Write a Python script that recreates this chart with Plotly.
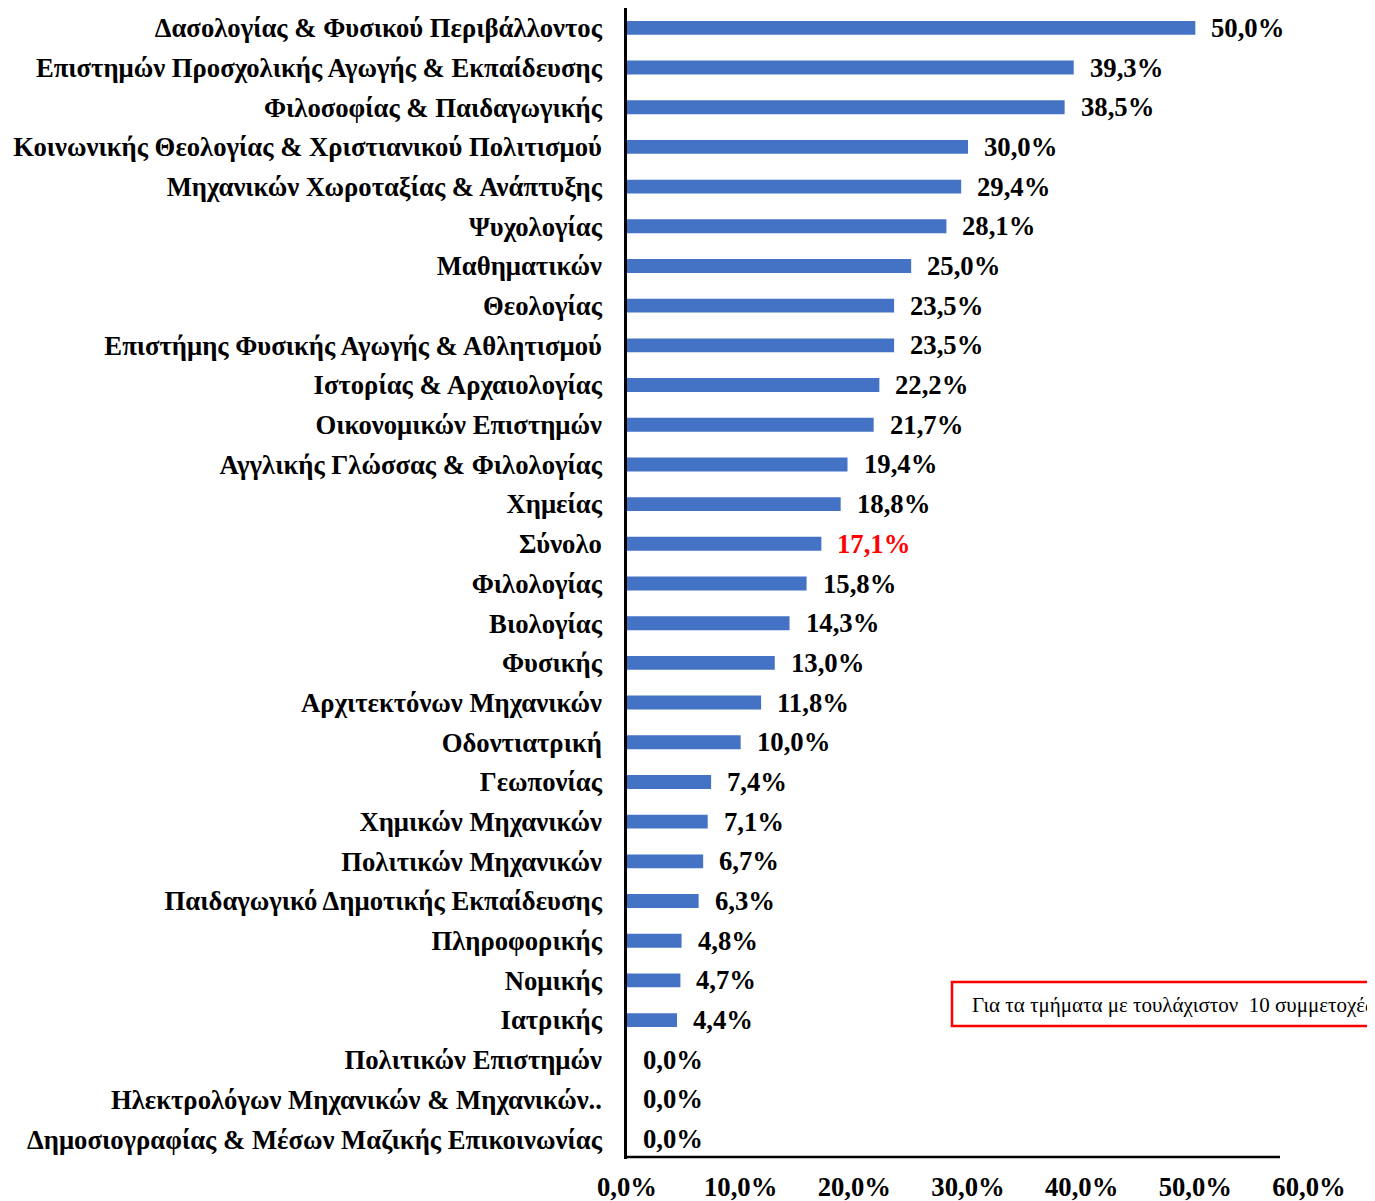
import plotly.graph_objects as go

categories = [
    "Δασολογίας & Φυσικού Περιβάλλοντος",
    "Επιστημών Προσχολικής Αγωγής & Εκπαίδευσης",
    "Φιλοσοφίας & Παιδαγωγικής",
    "Κοινωνικής Θεολογίας & Χριστιανικού Πολιτισμού",
    "Μηχανικών Χωροταξίας & Ανάπτυξης",
    "Ψυχολογίας",
    "Μαθηματικών",
    "Θεολογίας",
    "Επιστήμης Φυσικής Αγωγής & Αθλητισμού",
    "Ιστορίας & Αρχαιολογίας",
    "Οικονομικών Επιστημών",
    "Αγγλικής Γλώσσας & Φιλολογίας",
    "Χημείας",
    "Σύνολο",
    "Φιλολογίας",
    "Βιολογίας",
    "Φυσικής",
    "Αρχιτεκτόνων Μηχανικών",
    "Οδοντιατρική",
    "Γεωπονίας",
    "Χημικών Μηχανικών",
    "Πολιτικών Μηχανικών",
    "Παιδαγωγικό Δημοτικής Εκπαίδευσης",
    "Πληροφορικής",
    "Νομικής",
    "Ιατρικής",
    "Πολιτικών Επιστημών",
    "Ηλεκτρολόγων Μηχανικών & Μηχανικών..",
    "Δημοσιογραφίας & Μέσων Μαζικής Επικοινωνίας",
]
values = [50.0, 39.3, 38.5, 30.0, 29.4, 28.1, 25.0, 23.5, 23.5, 22.2, 21.7, 19.4, 18.8,
          17.1, 15.8, 14.3, 13.0, 11.8, 10.0, 7.4, 7.1, 6.7, 6.3, 4.8, 4.7, 4.4, 0.0, 0.0, 0.0]
highlight = "Σύνολο"
tick_vals = [0, 10, 20, 30, 40, 50, 60]
tick_text = ["0,0%", "10,0%", "20,0%", "30,0%", "40,0%", "50,0%", "60,0%"]
note_text = "Για τα τμήματα με τουλάχιστον  10 συμμετοχές"

FONT = "Liberation Serif, Times New Roman, serif"
OFF = 8  # page body margin
W, H = 1375 - OFF, 1201 - OFF
L, R, T, B = 627 - OFF, 1375 - 1309, 0, 1201 - 1159
PW, PH = W - L - R, H - T - B
FS = 26.7


def px_x(p):  # page pixel -> paper x
    return (p - OFF - L) / PW


def px_y(p):  # page pixel -> paper y
    return (H - B - (p - OFF)) / PH


fig = go.Figure()
fig.add_trace(go.Bar(
    x=values, y=categories, orientation="h",
    marker=dict(color="#4472C4", line=dict(width=0)),
    width=0.35, hoverinfo="x+y",
))

for c, v in zip(categories, values):
    fig.add_annotation(
        x=v, y=c, xref="x", yref="y",
        text=f"{v:.1f}%".replace(".", ","),
        showarrow=False, xanchor="left", yanchor="middle", xshift=14,
        font=dict(family=FONT, size=FS, weight="bold",
                  color="#FF0000" if c == highlight else "#000000"),
    )

# red-bordered note (box runs past the right edge, as in the reference)
fig.add_shape(type="rect", xref="paper", yref="paper",
              x0=px_x(952), x1=px_x(1400), y0=px_y(1026), y1=px_y(982),
              line=dict(color="#FF0000", width=2.5), fillcolor="white", layer="above")
fig.add_annotation(
    x=px_x(970), y=px_y(1005), xref="paper", yref="paper",
    xanchor="left", yanchor="middle", text=note_text, showarrow=False,
    font=dict(family=FONT, size=21, color="#000000"),
)

# horizontal axis line (ends before the last tick, as in the reference)
fig.add_shape(type="line", xref="paper", yref="paper",
              x0=0, x1=px_x(1280), y0=px_y(1157), y1=px_y(1157),
              line=dict(color="black", width=2.5))

fig.update_layout(
    width=W, height=H,
    margin=dict(l=L, r=R, t=T, b=B, autoexpand=False),
    plot_bgcolor="white", paper_bgcolor="white",
    showlegend=False,
    font=dict(family=FONT),
    xaxis=dict(range=[0, 60], tickvals=tick_vals, ticktext=tick_text,
               showgrid=False, zeroline=False, showline=False, automargin=False,
               ticks="", ticklabelstandoff=9,
               tickfont=dict(family=FONT, size=FS, weight="bold", color="black"),
               fixedrange=True),
    yaxis=dict(autorange="reversed", showgrid=False, zeroline=False, automargin=False,
               showline=True, linecolor="black", linewidth=2.5,
               ticks="", ticklabelstandoff=17,
               tickfont=dict(family=FONT, size=FS, weight="bold", color="black"),
               fixedrange=True),
)

fig.write_html("out.html")
